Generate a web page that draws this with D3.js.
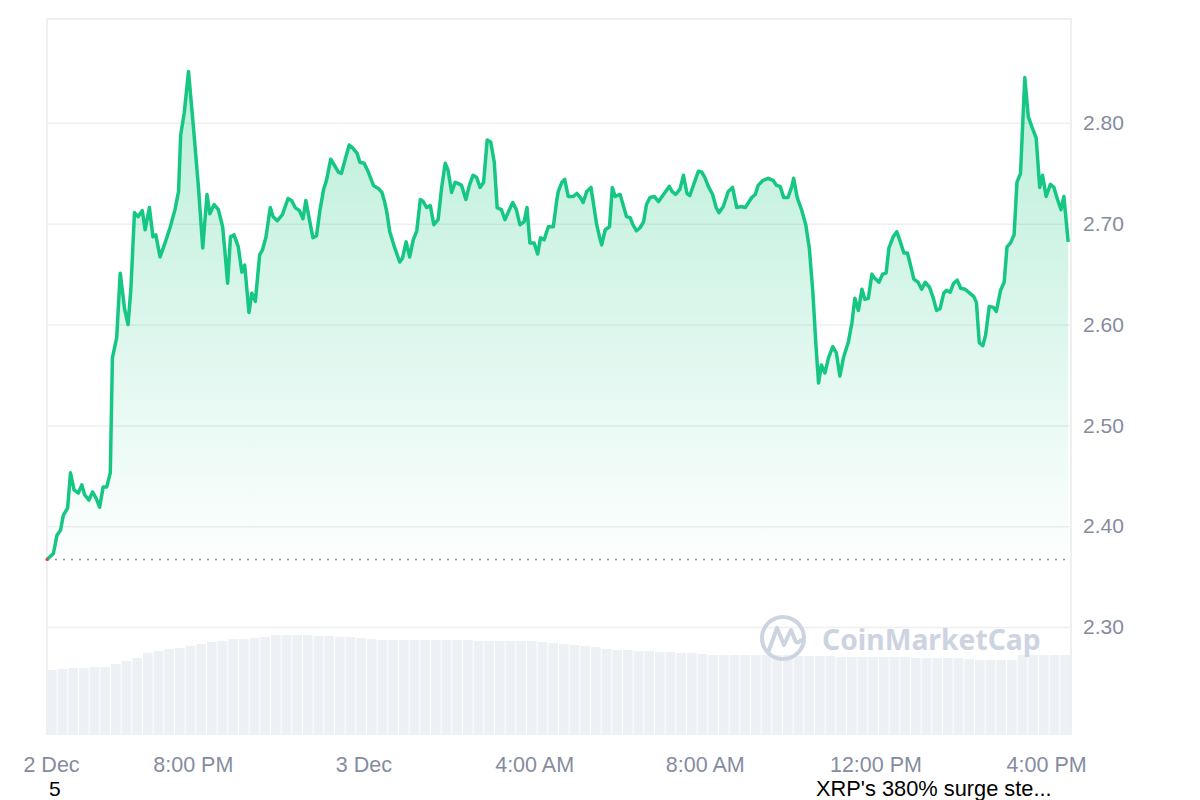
<!DOCTYPE html>
<html>
<head>
    <meta charset="utf-8">
    <style>
        body { margin: 0; background: #fff; }
        svg { display: block; font-family: "Liberation Sans", Arial, sans-serif; }
    </style>
</head>
<body>
    <script src="https://cdn.jsdelivr.net/npm/d3@7"></script>
    <script>
        // XRP price, 24h window starting 2 Dec 16:35
        var startTime = new Date(2024, 11, 2, 16, 35);
        var endTime = new Date(2024, 11, 3, 16, 35);

        // minutes since startTime
        var priceMinutes = [0, 9, 14, 19, 23, 29, 33, 38, 44, 49, 53, 59, 64, 69, 74, 79, 84, 89, 92, 98,
            103, 109, 114, 118, 123, 128, 134, 138, 144, 149, 153, 159, 166, 173, 180, 185, 188, 193, 199, 206,
            213, 219, 225, 229, 235, 241, 247, 250, 254, 258, 263, 269, 274, 278, 284, 288, 293, 299, 303, 308,
            314, 318, 324, 331, 339, 344, 349, 355, 360, 364, 369, 374, 379, 384, 389, 393, 399, 405, 410, 414,
            419, 425, 430, 436, 440, 446, 452, 459, 466, 471, 475, 478, 482, 489, 496, 500, 505, 510, 515, 520,
            525, 529, 534, 539, 544, 550, 555, 560, 564, 569, 574, 578, 583, 589, 594, 599, 604, 609, 614, 619,
            624, 629, 633, 639, 644, 649, 655, 660, 665, 671, 675, 679, 685, 690, 694, 699, 705, 712, 717, 719,
            724, 728, 733, 740, 745, 750, 754, 759, 765, 768, 773, 778, 780, 785, 791, 795, 799, 806, 810, 815,
            820, 824, 829, 834, 839, 843, 848, 854, 860, 864, 869, 875, 879, 884, 890, 895, 900, 904, 910, 916,
            921, 925, 930, 936, 941, 945, 951, 958, 964, 970, 976, 982, 991, 996, 1000, 1007, 1014, 1021, 1026, 1031,
            1036, 1042, 1047, 1050, 1055, 1061, 1067, 1072, 1077, 1081, 1085, 1089, 1094, 1099, 1105, 1110, 1115, 1120, 1127, 1132,
            1136, 1141, 1146, 1150, 1155, 1160, 1164, 1170, 1175, 1180, 1184, 1190, 1195, 1200, 1205, 1210, 1215, 1219, 1225, 1230,
            1235, 1241, 1246, 1251, 1256, 1261, 1265, 1270, 1275, 1280, 1285, 1291, 1298, 1303, 1307, 1311, 1316, 1320, 1325, 1331,
            1335, 1341, 1346, 1350, 1355, 1360, 1364, 1369, 1375, 1380, 1385, 1391, 1396, 1400, 1405, 1411, 1416, 1421, 1426, 1430,
            1436];
        var prices = [2.367, 2.373, 2.391, 2.396, 2.411, 2.418, 2.453, 2.436, 2.433, 2.441, 2.431, 2.426, 2.434, 2.428, 2.419, 2.439, 2.439, 2.453, 2.567, 2.587,
            2.651, 2.616, 2.600, 2.636, 2.711, 2.707, 2.713, 2.694, 2.716, 2.687, 2.689, 2.667, 2.681, 2.696, 2.714, 2.732, 2.788, 2.810, 2.851, 2.795,
            2.736, 2.676, 2.729, 2.710, 2.719, 2.714, 2.697, 2.674, 2.641, 2.687, 2.689, 2.677, 2.652, 2.659, 2.612, 2.631, 2.623, 2.669, 2.674, 2.687,
            2.716, 2.707, 2.703, 2.709, 2.725, 2.723, 2.716, 2.713, 2.705, 2.723, 2.704, 2.686, 2.688, 2.714, 2.734, 2.743, 2.764, 2.757, 2.751, 2.750,
            2.763, 2.778, 2.775, 2.770, 2.761, 2.760, 2.751, 2.738, 2.735, 2.731, 2.721, 2.711, 2.692, 2.676, 2.662, 2.666, 2.682, 2.667, 2.684, 2.693,
            2.724, 2.722, 2.716, 2.718, 2.699, 2.704, 2.736, 2.760, 2.753, 2.731, 2.741, 2.740, 2.738, 2.724, 2.738, 2.748, 2.746, 2.736, 2.741, 2.783,
            2.781, 2.761, 2.716, 2.714, 2.704, 2.712, 2.721, 2.714, 2.699, 2.702, 2.716, 2.681, 2.681, 2.670, 2.686, 2.684, 2.697, 2.697, 2.724, 2.732,
            2.741, 2.744, 2.727, 2.727, 2.730, 2.726, 2.721, 2.732, 2.736, 2.722, 2.699, 2.684, 2.679, 2.694, 2.697, 2.736, 2.727, 2.729, 2.719, 2.707,
            2.706, 2.699, 2.693, 2.696, 2.702, 2.719, 2.726, 2.727, 2.722, 2.726, 2.731, 2.737, 2.732, 2.729, 2.734, 2.748, 2.730, 2.728, 2.740, 2.752,
            2.751, 2.746, 2.737, 2.729, 2.716, 2.711, 2.717, 2.732, 2.736, 2.716, 2.717, 2.716, 2.726, 2.729, 2.738, 2.743, 2.745, 2.743, 2.738, 2.737,
            2.726, 2.726, 2.736, 2.745, 2.726, 2.714, 2.699, 2.676, 2.632, 2.583, 2.542, 2.560, 2.552, 2.567, 2.578, 2.572, 2.549, 2.567, 2.583, 2.602,
            2.626, 2.614, 2.635, 2.625, 2.626, 2.650, 2.646, 2.642, 2.650, 2.651, 2.676, 2.687, 2.692, 2.682, 2.671, 2.671, 2.657, 2.645, 2.642, 2.635,
            2.642, 2.637, 2.627, 2.614, 2.616, 2.631, 2.634, 2.632, 2.641, 2.644, 2.636, 2.635, 2.631, 2.628, 2.622, 2.582, 2.579, 2.590, 2.618, 2.617,
            2.613, 2.634, 2.642, 2.677, 2.681, 2.689, 2.741, 2.750, 2.845, 2.806, 2.796, 2.785, 2.736, 2.748, 2.727, 2.739, 2.736, 2.724, 2.714, 2.727,
            2.682];
        var baselinePrice = 2.367;

        // volume, one bar per 15 minutes (arbitrary units)
        var volumeStepMinutes = 15;
        var volumes = [6.5, 6.6, 6.7, 6.7, 6.8, 6.8, 7.1, 7.4, 7.7, 8.2, 8.4, 8.6, 8.7, 8.9, 9.1, 9.3, 9.4, 9.6, 9.6, 9.7,
            9.8, 10.0, 10.0, 10.0, 10.0, 9.9, 9.9, 9.8, 9.8, 9.7, 9.6, 9.5, 9.5, 9.5, 9.5, 9.5, 9.5, 9.5, 9.5, 9.5,
            9.4, 9.4, 9.4, 9.4, 9.4, 9.4, 9.3, 9.2, 9.1, 9.0, 8.9, 8.8, 8.6, 8.5, 8.5, 8.4, 8.4, 8.3, 8.3, 8.2,
            8.2, 8.1, 8.0, 8.0, 8.0, 8.0, 8.0, 8.0, 8.0, 8.0, 7.9, 7.9, 7.9, 7.9, 7.8, 7.8, 7.8, 7.8, 7.8, 7.8,
            7.8, 7.7, 7.7, 7.7, 7.7, 7.7, 7.6, 7.5, 7.5, 7.5, 7.5, 8.0, 8.0, 8.0, 8.0, 8.0];

        var yTicks = [2.30, 2.40, 2.50, 2.60, 2.70, 2.80];
        var xTickTimes = [startTime, new Date(2024, 11, 2, 20, 0), new Date(2024, 11, 3, 0, 0),
            new Date(2024, 11, 3, 4, 0), new Date(2024, 11, 3, 8, 0), new Date(2024, 11, 3, 12, 0),
            new Date(2024, 11, 3, 16, 0)];
        var xTickLabels = ["2 Dec", "8:00 PM", "3 Dec", "4:00 AM", "8:00 AM", "12:00 PM", "4:00 PM"];

        var plot = { left: 47, right: 1071, top: 19, bottom: 735 };
        var lineColor = "#16c784";
        var axisColor = "#858ca0";
        var gridColor = "#eeeff1";

        var data = priceMinutes.map(function (m, i) {
            return { t: d3.timeMinute.offset(startTime, m), p: prices[i] };
        });

        var xScale = d3.scaleTime()
            .domain([startTime, endTime])
            .range([plot.left, plot.right]);
        var yScale = d3.scaleLinear()
            .domain([2.193, 2.903])
            .range([plot.bottom, plot.top]);
        var volScale = d3.scaleLinear()
            .domain([0, 12])
            .range([plot.bottom, plot.bottom - 120]);

        var svg = d3.select("body").append("svg")
            .attr("width", 1200)
            .attr("height", 800);

        svg.append("rect").attr("width", 1200).attr("height", 800).attr("fill", "#fff");

        // gradient for the price area
        var grad = svg.append("defs").append("linearGradient")
            .attr("id", "areaGrad")
            .attr("gradientUnits", "userSpaceOnUse")
            .attr("x1", 0).attr("x2", 0)
            .attr("y1", yScale(2.85)).attr("y2", yScale(baselinePrice));
        grad.append("stop").attr("offset", 0).attr("stop-color", lineColor).attr("stop-opacity", 0.3);
        grad.append("stop").attr("offset", 1).attr("stop-color", lineColor).attr("stop-opacity", 0.01);

        // volume bars
        svg.append("g")
            .selectAll("rect")
            .data(volumes)
            .enter()
            .append("rect")
            .attr("x", function (d, i) { return xScale(d3.timeMinute.offset(startTime, i * volumeStepMinutes)); })
            .attr("width", function (d, i) {
                var x0 = xScale(d3.timeMinute.offset(startTime, i * volumeStepMinutes));
                var x1 = xScale(d3.timeMinute.offset(startTime, (i + 1) * volumeStepMinutes));
                return Math.max(0, x1 - x0 - 1);
            })
            .attr("y", function (d) { return volScale(d); })
            .attr("height", function (d) { return plot.bottom - volScale(d); })
            .attr("fill", "#edf0f4");

        // grid lines
        var yAxis = d3.axisRight(yScale)
            .tickValues(yTicks)
            .tickSize(-(plot.right - plot.left))
            .tickPadding(12)
            .tickFormat(d3.format(".2f"));
        var yAxisNodes = svg.append("g")
            .attr("transform", "translate(" + plot.right + ",0)")
            .call(yAxis);
        yAxisNodes.select(".domain").remove();
        yAxisNodes.selectAll(".tick line").attr("stroke", gridColor).attr("stroke-width", 1.5);
        yAxisNodes.selectAll(".tick text")
            .attr("fill", axisColor)
            .attr("font-size", 21)
            .attr("font-family", "Liberation Sans, Arial, sans-serif");

        // frame
        svg.append("path")
            .attr("d", "M" + plot.left + "," + plot.bottom + "V" + plot.top + "H" + plot.right + "V" + plot.bottom)
            .attr("fill", "none")
            .attr("stroke", gridColor)
            .attr("stroke-width", 2);

        // watermark
        var wm = svg.append("g").attr("fill", "none").attr("stroke", "#cdd4e1").attr("stroke-width", 4);
        wm.append("circle").attr("cx", 783).attr("cy", 638).attr("r", 21);
        wm.append("path")
            .attr("d", "M769,650 L777,628 L784,645 L791,630 L795,640 Q797,645 801,640")
            .attr("stroke-linejoin", "round").attr("stroke-linecap", "round");
        svg.append("text")
            .attr("x", 822).attr("y", 650)
            .attr("font-family", "Noto Sans, sans-serif")
            .attr("font-weight", 700)
            .attr("font-size", 28.3)
            .attr("fill", "#cdd4e1")
            .text("CoinMarketCap");

        // price area + line
        var area = d3.area()
            .x(function (d) { return xScale(d.t); })
            .y0(yScale(baselinePrice))
            .y1(function (d) { return yScale(d.p); });
        svg.append("path")
            .datum(data)
            .attr("d", area)
            .attr("fill", "url(#areaGrad)");

        svg.append("line")
            .attr("x1", plot.left).attr("x2", plot.right)
            .attr("y1", yScale(baselinePrice)).attr("y2", yScale(baselinePrice))
            .attr("stroke", "#8a8f99")
            .attr("stroke-width", 1.5)
            .attr("stroke-dasharray", "2,6");

        var line = d3.line()
            .x(function (d) { return xScale(d.t); })
            .y(function (d) { return yScale(d.p); });
        svg.append("path")
            .datum(data)
            .attr("d", line)
            .attr("fill", "none")
            .attr("stroke", lineColor)
            .attr("stroke-width", 3.5)
            .attr("stroke-linejoin", "round");

        svg.append("circle")
            .attr("cx", xScale(startTime)).attr("cy", yScale(baselinePrice))
            .attr("r", 1.5).attr("fill", "#ea3943");

        // x axis
        var xAxis = d3.axisBottom(xScale)
            .tickValues(xTickTimes)
            .tickSize(0)
            .tickPadding(21.5)
            .tickFormat(function (d, i) { return xTickLabels[i]; });
        var xAxisNodes = svg.append("g")
            .attr("transform", "translate(0," + plot.bottom + ")")
            .call(xAxis);
        xAxisNodes.select(".domain").remove();
        xAxisNodes.selectAll(".tick text")
            .attr("fill", axisColor)
            .attr("font-size", 21.5)
            .attr("font-family", "Liberation Sans, Arial, sans-serif");
        xAxisNodes.selectAll(".tick text").filter(function (d, i) { return i === 0; }).attr("dx", 4);

        // stray overlay texts at the bottom
        svg.append("text").attr("x", 49).attr("y", 795.5)
            .attr("font-size", 21).attr("fill", "#000").text("5");
        svg.append("text").attr("x", 816).attr("y", 795.5)
            .attr("font-size", 21.8).attr("fill", "#000").text("XRP's 380% surge ste...");
    </script>
</body>
</html>
